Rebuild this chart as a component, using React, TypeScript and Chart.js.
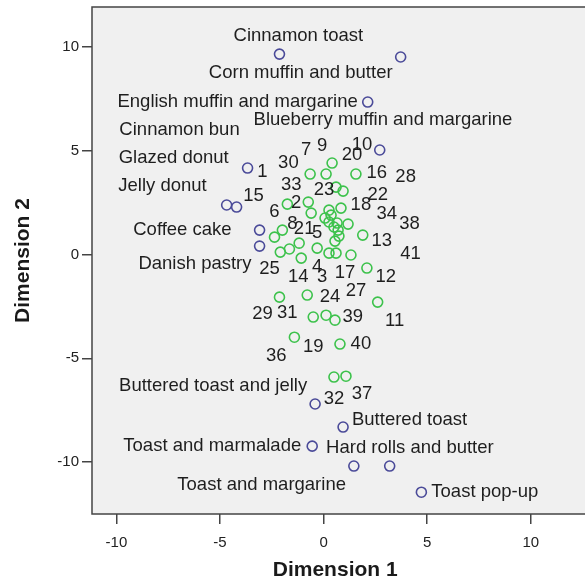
import React, { useEffect, useRef } from 'react';
import { Chart, registerables } from 'chart.js';

Chart.register(...registerables);

// Breakfast items (object points)
const itemNames = [
  'Cinnamon toast', 'Corn muffin and butter', 'English muffin and margarine',
  'Blueberry muffin and margarine', 'Glazed donut', 'Jelly donut', 'Cinnamon bun',
  'Coffee cake', 'Danish pastry', 'Buttered toast and jelly', 'Buttered toast',
  'Toast and marmalade', 'Hard rolls and butter', 'Toast and margarine', 'Toast pop-up',
];
const itemX = [-2.13, 3.72, 2.13, 2.71, -3.67, -4.68, -4.20, -3.09, -3.09, -0.41, 0.94, -0.55, 1.46, 3.19, 4.72];
const itemY = [9.66, 9.52, 7.35, 5.04, 4.17, 2.39, 2.29, 1.18, 0.41, -7.20, -8.31, -9.23, -10.19, -10.19, -11.45];

// Label anchors of item names (data units) and their alignment
const itemLabelX = [-1.22, 3.33, 1.65, -3.38, -4.58, -5.64, -4.05, -4.44, -3.48, -0.79, 1.37, -1.08, 0.12, 1.08, 5.20];
const itemLabelY = [10.53, 8.75, 7.35, 6.48, 4.65, 3.30, 6.00, 1.18, -0.46, -6.34, -7.98, -9.23, -9.33, -11.11, -11.45];
const itemLabelAlign = ['center', 'right', 'right', 'left', 'right', 'right', 'right', 'right', 'right', 'right', 'left', 'right', 'left', 'right', 'left'];

// Respondents (subject points)
const respX = [0.41, -0.65, 0.12, 1.56, 0.60, 0.94, -1.75, -0.74, -0.60, 0.26, 0.84, 0.07, 0.36, 0.26, 0.65, 1.18, 0.70, 0.74, 0.55, 1.89, -1.99, -2.37, -1.18, -1.65, -2.09, -1.08, -0.31, 0.26, 0.60, 1.32, 2.09, -2.13, -0.79, 2.61, -0.50, 0.12, 0.55, -1.41, 0.79, 0.50, 1.08, 0.50];
const respY = [4.41, 3.88, 3.88, 3.88, 3.25, 3.06, 2.43, 2.53, 2.00, 2.14, 2.24, 1.76, 1.90, 1.57, 1.52, 1.47, 1.18, 0.89, 0.65, 0.94, 1.18, 0.84, 0.55, 0.27, 0.12, -0.17, 0.31, 0.07, 0.07, -0.02, -0.65, -2.05, -1.95, -2.29, -3.01, -2.92, -3.16, -3.98, -4.31, -5.90, -5.86, 1.33];

// Respondent number labels (data units, centred)
const respLabelText = ['7', '9', '30', '1', '10', '20', '16', '28', '33', '23', '15', '22', '18', '2', '6', '34', '38', '8', '21', '5', '13', '41', '25', '4', '14', '3', '17', '12', '27', '24', '29', '31', '39', '11', '19', '40', '36', '32', '37'];
const respLabelX = [-0.84, -0.07, -1.70, -2.95, 1.85, 1.37, 2.57, 3.96, -1.56, 0.02, -3.38, 2.61, 1.80, -1.32, -2.37, 3.05, 4.15, -1.51, -0.94, -0.31, 2.81, 4.20, -2.61, -0.31, -1.22, -0.07, 1.03, 3.00, 1.56, 0.31, -2.95, -1.75, 1.41, 3.43, -0.50, 1.80, -2.28, 0.50, 1.85];
const respLabelY = [5.04, 5.23, 4.41, 3.98, 5.28, 4.80, 3.93, 3.73, 3.35, 3.11, 2.82, 2.87, 2.39, 2.48, 2.05, 1.95, 1.47, 1.47, 1.23, 1.04, 0.65, 0.02, -0.70, -0.60, -1.08, -1.08, -0.89, -1.08, -1.76, -2.05, -2.87, -2.82, -3.01, -3.20, -4.46, -4.31, -4.89, -6.96, -6.72];

const xTicks = [-10, -5, 0, 5, 10];
const yTicks = [-10, -5, 0, 5, 10];
const xRange = [-11.18, 12.3];
const yRange = [-12.5, 11.93];

const FONT = "'Liberation Sans', Arial, sans-serif";

export default function App() {
  const ref = useRef<HTMLCanvasElement | null>(null);

  useEffect(() => {
    const canvas = ref.current;
    if (!canvas) return;

    const framePlugin = {
      id: 'frame',
      beforeDraw(chart: any) {
        const { ctx, chartArea: a } = chart;
        ctx.save();
        ctx.fillStyle = '#ffffff';
        ctx.fillRect(0, 0, chart.width, chart.height);
        ctx.fillStyle = '#f0f0f0';
        ctx.fillRect(a.left, a.top, chart.width - a.left, a.bottom - a.top);
        ctx.restore();
      },
      afterDraw(chart: any) {
        const { ctx, chartArea: a } = chart;
        ctx.save();
        ctx.strokeStyle = '#444444';
        ctx.lineWidth = 1.5;
        ctx.beginPath();
        ctx.moveTo(chart.width, a.top);
        ctx.lineTo(a.left, a.top);
        ctx.lineTo(a.left, a.bottom);
        ctx.lineTo(chart.width, a.bottom);
        ctx.stroke();
        ctx.restore();
      },
    };

    const labelPlugin = {
      id: 'pointLabels',
      afterDatasetsDraw(chart: any) {
        const { ctx, scales } = chart;
        ctx.save();
        ctx.font = `18.5px ${FONT}`;
        ctx.fillStyle = '#1e1e1e';
        ctx.textBaseline = 'middle';
        itemNames.forEach((name, i) => {
          ctx.textAlign = itemLabelAlign[i];
          ctx.fillText(name, scales.x.getPixelForValue(itemLabelX[i]), scales.y.getPixelForValue(itemLabelY[i]));
        });
        ctx.textAlign = 'center';
        respLabelText.forEach((t, i) => {
          ctx.fillText(t, scales.x.getPixelForValue(respLabelX[i]), scales.y.getPixelForValue(respLabelY[i]));
        });
        ctx.restore();
      },
    };

    const chart = new Chart(canvas, {
      type: 'scatter',
      data: {
        datasets: [
          {
            label: 'Items',
            data: itemX.map((x, i) => ({ x, y: itemY[i] })),
            borderColor: '#4b4b99',
            backgroundColor: 'rgba(0,0,0,0)',
            pointRadius: 5,
            borderWidth: 1.6,
          },
          {
            label: 'Respondents',
            data: respX.map((x, i) => ({ x, y: respY[i] })),
            borderColor: '#3dc24c',
            backgroundColor: 'rgba(0,0,0,0)',
            pointRadius: 5,
            borderWidth: 1.6,
          },
        ],
      },
      options: {
        animation: false,
        responsive: false,
        devicePixelRatio: 1,
        layout: { padding: { left: 0, top: 7, right: 3, bottom: 0 } },
        plugins: { legend: { display: false }, tooltip: { enabled: false } },
        scales: {
          x: {
            type: 'linear',
            min: xRange[0],
            max: xRange[1],
            afterBuildTicks: (s: any) => { s.ticks = xTicks.map((v) => ({ value: v })); },
            afterFit: (s: any) => { s.height = 67; s.paddingLeft = 0; s.paddingRight = 0; },
            ticks: { includeBounds: false, padding: 10, color: '#222', font: { family: FONT, size: 15 } },
            grid: { drawOnChartArea: false, drawTicks: true, tickLength: 10, color: '#444', lineWidth: 1.5 },
            border: { display: false },
            title: { display: true, text: 'Dimension 1', color: '#1a1a1a', padding: { top: -1.5, bottom: 0 }, font: { family: FONT, size: 21, weight: 'bold', lineHeight: 1 } },
          },
          y: {
            type: 'linear',
            min: yRange[0],
            max: yRange[1],
            afterBuildTicks: (s: any) => { s.ticks = yTicks.map((v) => ({ value: v })); },
            afterFit: (s: any) => { s.width = 92; s.paddingTop = 0; s.paddingBottom = 0; },
            ticks: { includeBounds: false, padding: 3, color: '#222', font: { family: FONT, size: 15 } },
            grid: { drawOnChartArea: false, drawTicks: true, tickLength: 10, color: '#444', lineWidth: 1.5 },
            border: { display: false },
            title: { display: true, text: 'Dimension 2', color: '#1a1a1a', padding: { top: 13, bottom: 0 }, font: { family: FONT, size: 21, weight: 'bold', lineHeight: 1 } },
          },
        },
      },
      plugins: [framePlugin, labelPlugin],
    });

    return () => chart.destroy();
  }, []);

  return (
    <div style={{ position: 'absolute', left: 0, top: 0, width: 585, height: 581, background: '#fff', overflow: 'hidden' }}>
      <canvas ref={ref} width={585} height={581} style={{ display: 'block' }} />
    </div>
  );
}
